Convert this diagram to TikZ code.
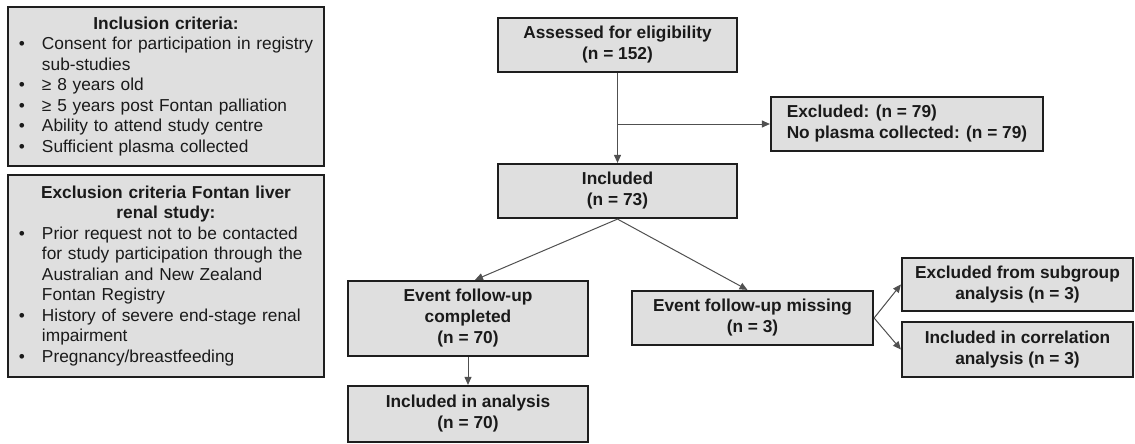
\documentclass[tikz,border=0pt]{standalone}
\usepackage{fontspec}
\setmainfont{Liberation Sans}
\usetikzlibrary{arrows.meta}
\definecolor{boxfill}{HTML}{DFDFDF}
\definecolor{boxline}{HTML}{1E1E1E}
\definecolor{lnk}{HTML}{505050}
\definecolor{txt}{HTML}{1A1A1A}
\newcommand\bitem[1]{\par\hangindent=31pt\hangafter=1\noindent\makebox[31pt][l]{\hspace{8pt}\textbullet}#1}
\begin{document}
\begin{tikzpicture}[x=1pt,y=-1pt,
  box/.style={draw=boxline, line width=2.2pt, fill=boxfill, inner sep=0pt, text=txt,
    font=\fontsize{17.3}{21}\selectfont\bfseries, align=center},
  crit/.style={draw=boxline, line width=2.2pt, fill=boxfill, inner sep=0pt, text=txt,
    font=\fontsize{17.3}{20.5}\selectfont, text width=310pt, minimum width=316pt, align=left},
  arr/.style={draw=lnk, line width=1pt, -{Triangle[length=8pt,width=7pt]}},
  lnkline/.style={draw=lnk, line width=1pt}]
\useasboundingbox (0,0) rectangle (1135,444);

\node[crit, minimum height=159pt] (inc) at (166,86.5) {\makebox[310pt]{\bfseries Inclusion criteria:}\par
\bitem{Consent for participation in registry\newline sub-studies}
\bitem{≥ 8 years old}
\bitem{≥ 5 years post Fontan palliation}
\bitem{Ability to attend study centre}
\bitem{Sufficient plasma collected}};

\node[crit, minimum height=202pt] (exl) at (166,276) {\makebox[310pt]{\bfseries Exclusion criteria Fontan liver}\par
\makebox[310pt]{\bfseries renal study:}\par
\bitem{Prior request not to be contacted\newline for study participation through the\newline Australian and New Zealand\newline Fontan Registry}
\bitem{History of severe end-stage renal\newline impairment}
\bitem{Pregnancy/breastfeeding}};

\node[box, minimum width=239pt, minimum height=54pt] (ass) at (617.5,45) {Assessed for eligibility\\(n = 152)};
\node[box, minimum width=239pt, minimum height=54pt] (incl) at (617.5,191) {Included\\(n = 73)};
\node[box, minimum width=272pt, minimum height=54pt, align=left] (exc) at (907,124) {Excluded: (n = 79)\\No plasma collected: (n = 79)};
\node[box, minimum width=240pt, minimum height=75pt] (evc) at (468,318.5) {Event follow-up\\completed\\(n = 70)};
\node[box, minimum width=240pt, minimum height=56pt] (ina) at (468,414) {Included in analysis\\(n = 70)};
\node[box, minimum width=241pt, minimum height=54pt] (evm) at (752.5,318) {Event follow-up missing\\(n = 3)};
\node[box, minimum width=231pt, minimum height=53pt] (exs) at (1017.5,284.5) {Excluded from subgroup\\analysis (n = 3)};
\node[box, minimum width=231pt, minimum height=55pt] (icr) at (1017.5,349.5) {Included in correlation\\analysis (n = 3)};

\coordinate (br) at (ass.south |- exc.west);
\draw[arr] (ass.south) -- (incl.north);
\draw[arr] (br) -- (exc.west);
\draw[arr] (incl.south) -- ([xshift=7pt]evc.north);
\draw[arr] (incl.south) -- ([xshift=-5pt]evm.north);
\draw[arr] (evc.south) -- (ina.north);
\draw[arr] (evm.east) -- (exs.west);
\draw[arr] (evm.east) -- (icr.west);
\end{tikzpicture}
\end{document}
